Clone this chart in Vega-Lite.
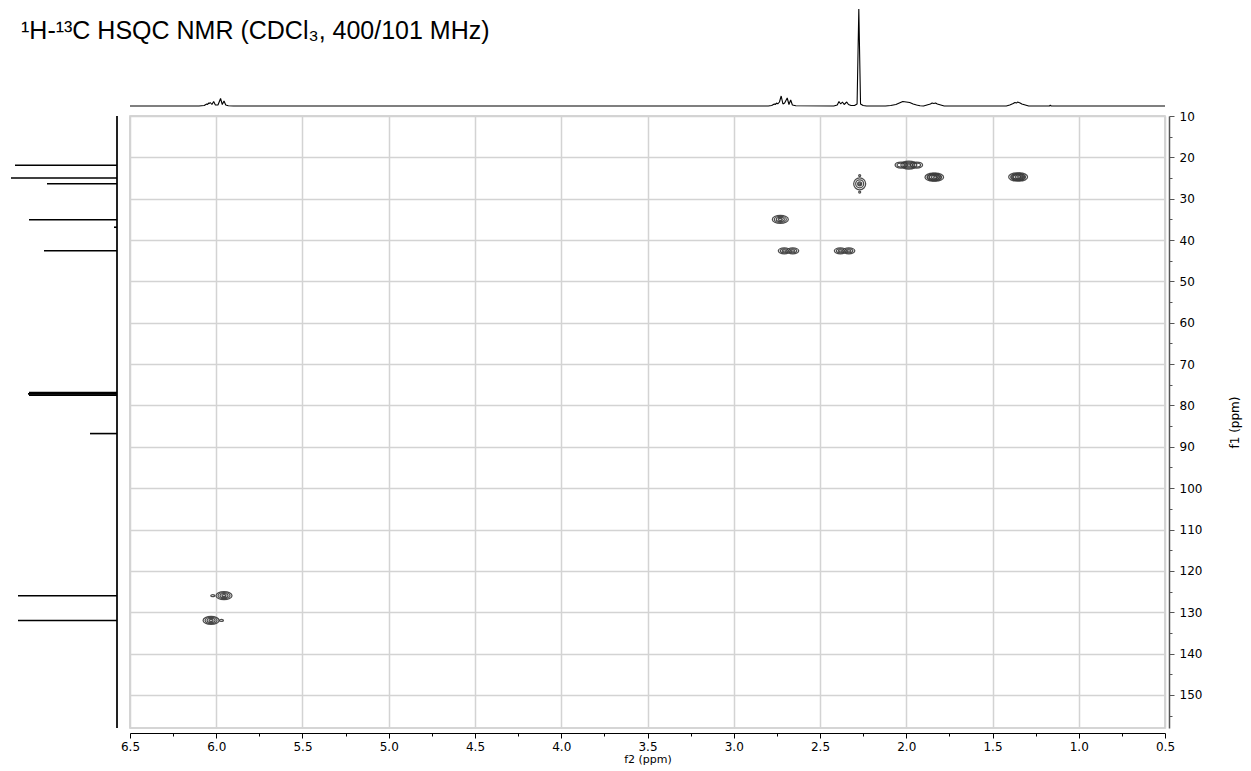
{
  "$schema": "https://vega.github.io/schema/vega-lite/v6.json",
  "padding": {"left": 10, "top": 8, "right": 5, "bottom": 5},
  "bounds": "flush",
  "background": "white",
  "config": {"view": {"stroke": null}, "font": "DejaVu Sans"},
  "columns": 2,
  "spacing": {"row": 10, "column": 13},
  "resolve": {"scale": {"x": "independent", "y": "independent"}},
  "datasets": {
    "h1": [
      {"shift": 6.5, "intensity": 0}, {"shift": 6.1, "intensity": 0}, {"shift": 6.07, "intensity": 0.5},
      {"shift": 6.055, "intensity": 2}, {"shift": 6.05, "intensity": 1.5}, {"shift": 6.045, "intensity": 3},
      {"shift": 6.04, "intensity": 2.5}, {"shift": 6.035, "intensity": 3.5}, {"shift": 6.025, "intensity": 1.5},
      {"shift": 6.015, "intensity": 4.5}, {"shift": 6.005, "intensity": 1}, {"shift": 5.99, "intensity": 1},
      {"shift": 5.975, "intensity": 7.5}, {"shift": 5.965, "intensity": 1.5}, {"shift": 5.955, "intensity": 5},
      {"shift": 5.945, "intensity": 1}, {"shift": 5.93, "intensity": 0.3}, {"shift": 5.9, "intensity": 0},
      {"shift": 2.8, "intensity": 0}, {"shift": 2.78, "intensity": 0.5}, {"shift": 2.765, "intensity": 2},
      {"shift": 2.76, "intensity": 1.5}, {"shift": 2.75, "intensity": 3}, {"shift": 2.745, "intensity": 2},
      {"shift": 2.735, "intensity": 4}, {"shift": 2.725, "intensity": 10}, {"shift": 2.715, "intensity": 2},
      {"shift": 2.705, "intensity": 3}, {"shift": 2.69, "intensity": 8}, {"shift": 2.68, "intensity": 1.5},
      {"shift": 2.67, "intensity": 6}, {"shift": 2.66, "intensity": 1}, {"shift": 2.64, "intensity": 0.3},
      {"shift": 2.42, "intensity": 0}, {"shift": 2.4, "intensity": 1}, {"shift": 2.39, "intensity": 4.5},
      {"shift": 2.38, "intensity": 2}, {"shift": 2.37, "intensity": 4}, {"shift": 2.36, "intensity": 1.5},
      {"shift": 2.345, "intensity": 4}, {"shift": 2.335, "intensity": 1.5}, {"shift": 2.32, "intensity": 0.5},
      {"shift": 2.3, "intensity": 0.5}, {"shift": 2.285, "intensity": 2}, {"shift": 2.275, "intensity": 97},
      {"shift": 2.265, "intensity": 2}, {"shift": 2.25, "intensity": 0.5}, {"shift": 2.23, "intensity": 0},
      {"shift": 2.12, "intensity": 0}, {"shift": 2.09, "intensity": 0.5}, {"shift": 2.06, "intensity": 1.5},
      {"shift": 2.04, "intensity": 3}, {"shift": 2.02, "intensity": 4.5}, {"shift": 2.0, "intensity": 4},
      {"shift": 1.98, "intensity": 3.5}, {"shift": 1.96, "intensity": 2}, {"shift": 1.94, "intensity": 1},
      {"shift": 1.92, "intensity": 0.3}, {"shift": 1.9, "intensity": 0}, {"shift": 1.88, "intensity": 1},
      {"shift": 1.86, "intensity": 2}, {"shift": 1.85, "intensity": 3}, {"shift": 1.84, "intensity": 2.5},
      {"shift": 1.83, "intensity": 3}, {"shift": 1.82, "intensity": 2}, {"shift": 1.8, "intensity": 1},
      {"shift": 1.78, "intensity": 0}, {"shift": 1.42, "intensity": 0}, {"shift": 1.4, "intensity": 1},
      {"shift": 1.38, "intensity": 2.5}, {"shift": 1.37, "intensity": 3.5}, {"shift": 1.36, "intensity": 3},
      {"shift": 1.355, "intensity": 4}, {"shift": 1.34, "intensity": 3}, {"shift": 1.33, "intensity": 2},
      {"shift": 1.31, "intensity": 1}, {"shift": 1.29, "intensity": 0}, {"shift": 1.17, "intensity": 0},
      {"shift": 1.165, "intensity": 0.8}, {"shift": 1.16, "intensity": 0}, {"shift": 0.5, "intensity": 0}
    ],
    "c13": [
      {"shift": 21.9, "intensity": 102}, {"shift": 25.0, "intensity": 106}, {"shift": 26.4, "intensity": 70},
      {"shift": 35.1, "intensity": 88}, {"shift": 36.9, "intensity": 3}, {"shift": 42.6, "intensity": 73},
      {"shift": 76.9, "intensity": 88}, {"shift": 77.2, "intensity": 89}, {"shift": 77.5, "intensity": 88},
      {"shift": 86.8, "intensity": 27}, {"shift": 126.0, "intensity": 99}, {"shift": 132.0, "intensity": 99}
    ],
    "hsqc": [
      {"f2": 5.955, "f1": 126.0, "level": 1, "form": "ellipse"},
      {"f2": 5.955, "f1": 126.0, "level": 2, "form": "ellipse"},
      {"f2": 5.955, "f1": 126.0, "level": 3, "form": "ellipse"},
      {"f2": 5.955, "f1": 126.0, "level": 4, "form": "ellipse"},
      {"f2": 6.02, "f1": 126.0, "level": 4, "form": "ellipse"},
      {"f2": 6.03, "f1": 132.0, "level": 1, "form": "ellipse"},
      {"f2": 6.03, "f1": 132.0, "level": 2, "form": "ellipse"},
      {"f2": 6.03, "f1": 132.0, "level": 3, "form": "ellipse"},
      {"f2": 6.03, "f1": 132.0, "level": 4, "form": "ellipse"},
      {"f2": 5.97, "f1": 132.0, "level": 4, "form": "ellipse"},
      {"f2": 2.73, "f1": 35.0, "level": 1, "form": "ellipse"},
      {"f2": 2.73, "f1": 35.0, "level": 2, "form": "ellipse"},
      {"f2": 2.73, "f1": 35.0, "level": 3, "form": "ellipse"},
      {"f2": 2.73, "f1": 35.0, "level": 4, "form": "ellipse"},
      {"f2": 2.707, "f1": 42.6, "level": 2, "form": "ellipse"},
      {"f2": 2.707, "f1": 42.6, "level": 3, "form": "ellipse"},
      {"f2": 2.707, "f1": 42.6, "level": 4, "form": "ellipse"},
      {"f2": 2.658, "f1": 42.6, "level": 2, "form": "ellipse"},
      {"f2": 2.658, "f1": 42.6, "level": 3, "form": "ellipse"},
      {"f2": 2.658, "f1": 42.6, "level": 4, "form": "ellipse"},
      {"f2": 2.382, "f1": 42.6, "level": 2, "form": "ellipse"},
      {"f2": 2.382, "f1": 42.6, "level": 3, "form": "ellipse"},
      {"f2": 2.382, "f1": 42.6, "level": 4, "form": "ellipse"},
      {"f2": 2.333, "f1": 42.6, "level": 2, "form": "ellipse"},
      {"f2": 2.333, "f1": 42.6, "level": 3, "form": "ellipse"},
      {"f2": 2.333, "f1": 42.6, "level": 4, "form": "ellipse"},
      {"f2": 2.27, "f1": 26.4, "level": 2, "form": "round"},
      {"f2": 2.27, "f1": 26.4, "level": 3, "form": "round"},
      {"f2": 2.27, "f1": 26.4, "level": 4, "form": "round"},
      {"f2": 2.27, "f1": 26.4, "level": 5, "form": "round"},
      {"f2": 2.27, "f1": 24.4, "level": 5, "form": "round"},
      {"f2": 2.27, "f1": 28.4, "level": 5, "form": "round"},
      {"f2": 1.985, "f1": 21.85, "level": 1, "form": "ellipse"},
      {"f2": 1.985, "f1": 21.85, "level": 2, "form": "ellipse"},
      {"f2": 1.985, "f1": 21.85, "level": 3, "form": "ellipse"},
      {"f2": 1.985, "f1": 21.85, "level": 4, "form": "ellipse"},
      {"f2": 2.03, "f1": 21.85, "level": 2, "form": "ellipse"},
      {"f2": 2.03, "f1": 21.85, "level": 3, "form": "ellipse"},
      {"f2": 1.94, "f1": 21.85, "level": 2, "form": "ellipse"},
      {"f2": 1.94, "f1": 21.85, "level": 3, "form": "ellipse"},
      {"f2": 1.845, "f1": 24.8, "level": 1, "form": "ellipse"},
      {"f2": 1.845, "f1": 24.8, "level": 2, "form": "ellipse"},
      {"f2": 1.845, "f1": 24.8, "level": 3, "form": "ellipse"},
      {"f2": 1.83, "f1": 24.8, "level": 1, "form": "ellipse"},
      {"f2": 1.83, "f1": 24.8, "level": 2, "form": "ellipse"},
      {"f2": 1.83, "f1": 24.8, "level": 3, "form": "ellipse"},
      {"f2": 1.83, "f1": 24.8, "level": 4, "form": "ellipse"},
      {"f2": 1.36, "f1": 24.75, "level": 1, "form": "ellipse"},
      {"f2": 1.36, "f1": 24.75, "level": 2, "form": "ellipse"},
      {"f2": 1.36, "f1": 24.75, "level": 3, "form": "ellipse"},
      {"f2": 1.343, "f1": 24.75, "level": 1, "form": "ellipse"},
      {"f2": 1.343, "f1": 24.75, "level": 2, "form": "ellipse"},
      {"f2": 1.343, "f1": 24.75, "level": 3, "form": "ellipse"},
      {"f2": 1.343, "f1": 24.75, "level": 4, "form": "ellipse"}
    ]
  },
  "concat": [
    {
      "width": 106,
      "height": 97,
      "data": {"values": []},
      "mark": {"type": "point", "opacity": 0},
      "encoding": {},
      "title": {
        "text": "¹H-¹³C HSQC NMR (CDCl₃, 400/101 MHz)",
        "anchor": "start",
        "frame": "group",
        "orient": "top",
        "offset": -55,
        "baseline": "alphabetic",
        "dx": 10,
        "font": "Liberation Sans",
        "fontSize": 25,
        "fontWeight": "normal",
        "color": "black"
      }
    },
    {
      "width": 1035,
      "height": 97,
      "data": {"name": "h1"},
      "mark": {"type": "line", "color": "black", "strokeWidth": 1.1, "strokeJoin": "bevel"},
      "encoding": {
        "x": {"field": "shift", "type": "quantitative", "scale": {"domain": [0.5, 6.5], "reverse": true, "nice": false, "zero": false}, "axis": null},
        "y": {"field": "intensity", "type": "quantitative", "scale": {"domain": [0, 97], "nice": false}, "axis": null}
      }
    },
    {
      "width": 106,
      "height": 612,
      "layer": [
        {
          "data": {"values": [{}]},
          "mark": {"type": "rule", "color": "#222", "strokeWidth": 2},
          "encoding": {
            "x": {"datum": 0, "type": "quantitative", "scale": {"domain": [0, 106], "reverse": true, "nice": false}, "axis": null},
            "y": {"datum": 10, "type": "quantitative", "scale": {"domain": [10, 158], "reverse": true, "nice": false, "zero": false}, "axis": null},
            "y2": {"datum": 158}
          }
        },
        {
          "data": {"name": "c13"},
          "mark": {"type": "rule", "color": "black", "strokeWidth": 1.6},
          "encoding": {
            "x": {"field": "intensity", "type": "quantitative", "scale": {"domain": [0, 106], "reverse": true, "nice": false}, "axis": null},
            "x2": {"datum": 0},
            "y": {"field": "shift", "type": "quantitative", "scale": {"domain": [10, 158], "reverse": true, "nice": false, "zero": false}, "axis": null}
          }
        }
      ]
    },
    {
      "width": 1035,
      "height": 612,
      "view": {"stroke": "#c8c8c8", "strokeWidth": 1.5},
      "data": {"name": "hsqc"},
      "resolve": {"axis": {"x": "independent", "y": "independent"}},
      "layer": [
        {
          "mark": {"type": "point", "filled": false, "color": "#3a3a3a", "strokeWidth": 1.25, "opacity": 0.9},
          "encoding": {
            "x": {
              "field": "f2", "type": "quantitative",
              "scale": {"domain": [0.5, 6.5], "reverse": true, "nice": false, "zero": false},
              "axis": {
                "orient": "bottom", "offset": 5,
                "values": [6.5, 6.0, 5.5, 5.0, 4.5, 4.0, 3.5, 3.0, 2.5, 2.0, 1.5, 1.0, 0.5],
                "format": ".1f", "grid": true, "gridColor": "#d3d3d3", "gridWidth": 1.5,
                "domainColor": "black", "tickColor": "black", "tickSize": 5,
                "labelFont": "DejaVu Sans", "labelFontSize": 12, "labelColor": "black", "labelPadding": 3,
                "labelFlush": false, "labelOverlap": false,
                "title": "f2 (ppm)", "titleFont": "DejaVu Sans", "titleFontSize": 11, "titleFontWeight": "normal", "titleColor": "black", "titlePadding": 1
              }
            },
            "y": {
              "field": "f1", "type": "quantitative",
              "scale": {"domain": [10, 158], "reverse": true, "nice": false, "zero": false},
              "axis": {
                "orient": "right", "offset": 4,
                "values": [10, 20, 30, 40, 50, 60, 70, 80, 90, 100, 110, 120, 130, 140, 150],
                "grid": true, "gridColor": "#d3d3d3", "gridWidth": 1.5,
                "domainColor": "#555", "domainWidth": 1.5, "tickColor": "#555", "tickSize": 5,
                "labelFont": "DejaVu Sans", "labelFontSize": 12, "labelColor": "black", "labelPadding": 5,
                "labelFlush": false, "labelOverlap": false,
                "title": "f1 (ppm)", "titleAngle": 270, "titleFont": "DejaVu Sans", "titleFontSize": 12, "titleFontWeight": "normal", "titleColor": "black", "titlePadding": 40
              }
            },
            "size": {"field": "level", "type": "quantitative", "scale": {"type": "threshold", "domain": [1.5, 2.5, 3.5, 4.5], "range": [256, 144, 64, 16, 4]}, "legend": null},
            "shape": {"field": "form", "type": "nominal", "scale": {"domain": ["ellipse", "round"], "range": ["M-1,0A1,0.5,0,1,1,1,0A1,0.5,0,1,1,-1,0Z", "circle"]}, "legend": null}
          }
        },
        {
          "mark": {"type": "point", "opacity": 0},
          "encoding": {
            "x": {
              "field": "f2", "type": "quantitative",
              "axis": {
                "orient": "bottom", "offset": 5,
                "values": [6.25, 5.75, 5.25, 4.75, 4.25, 3.75, 3.25, 2.75, 2.25, 1.75, 1.25, 0.75],
                "labels": false, "domain": false, "grid": false, "ticks": true, "tickSize": 3, "tickColor": "black", "title": null
              }
            },
            "y": {
              "field": "f1", "type": "quantitative",
              "axis": {
                "orient": "right", "offset": 4,
                "values": [15, 25, 35, 45, 55, 65, 75, 85, 95, 105, 115, 125, 135, 145, 155],
                "labels": false, "domain": false, "grid": false, "ticks": true, "tickSize": 3, "tickColor": "#555", "title": null
              }
            }
          }
        }
      ]
    }
  ]
}
